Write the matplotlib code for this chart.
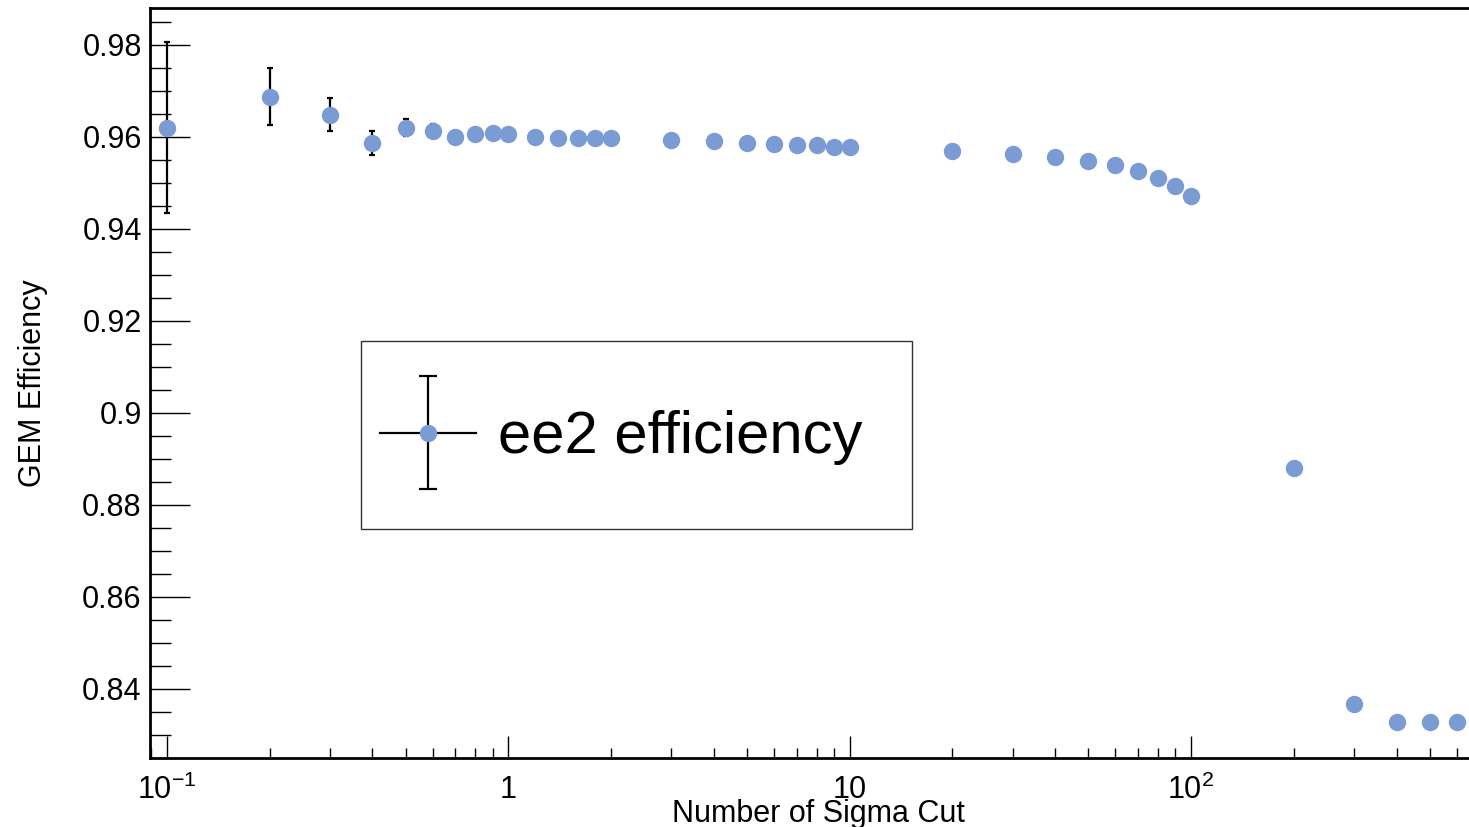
import numpy as np
import matplotlib
matplotlib.use("Agg")
import matplotlib.pyplot as plt
from matplotlib.ticker import LogLocator, NullFormatter, MultipleLocator, FuncFormatter
from matplotlib.lines import Line2D
from matplotlib.patches import Rectangle
from matplotlib.container import ErrorbarContainer
from matplotlib.legend_handler import HandlerErrorbar

sigma_cut = [0.1, 0.2, 0.3, 0.4, 0.5, 0.6, 0.7, 0.8, 0.9, 1.0,
             1.2, 1.4, 1.6, 1.8, 2.0, 3, 4, 5, 6, 7, 8, 9, 10,
             20, 30, 40, 50, 60, 70, 80, 90, 100, 200, 300, 400, 500, 600]
efficiency = [0.9620, 0.9687, 0.9648, 0.9587, 0.9620, 0.9613, 0.9600, 0.9607, 0.9609, 0.9607,
              0.9600, 0.9598, 0.9598, 0.9598, 0.9598, 0.9593, 0.9591, 0.9587, 0.9585, 0.9583,
              0.9583, 0.9578, 0.9578, 0.9570, 0.9563, 0.9557, 0.9548, 0.9539, 0.9526, 0.9511,
              0.9493, 0.9472, 0.8880, 0.8367, 0.8328, 0.8328, 0.8328]
eff_err = [0.0186, 0.0062, 0.0036, 0.0026, 0.0019, 0.0014, 0.0013, 0.0012, 0.0011, 0.0011,
           0.0010, 0.0010, 0.0009, 0.0009, 0.0009, 0.0008, 0.0008, 0.0008, 0.0007, 0.0007,
           0.0007, 0.0007, 0.0007, 0.0006, 0.0006, 0.0006, 0.0006, 0.0006, 0.0006, 0.0006,
           0.0006, 0.0006, 0.0008, 0.0009, 0.0009, 0.0009, 0.0009]

x_major = [0.1, 1, 10, 100]
x_major_labels = [r'$\mathregular{10^{-1}}$', '1', '10', r'$\mathregular{10^{2}}$']

plt.rcParams['font.family'] = ['Liberation Sans', 'DejaVu Sans']
plt.rcParams['mathtext.fontset'] = 'custom'
plt.rcParams['mathtext.rm'] = 'Liberation Sans'
plt.rcParams['mathtext.it'] = 'Liberation Sans:italic'

marker_col = '#7b9bd5'


# ROOT draws bigger caps in the legend than on the points
class BigCapHandler(HandlerErrorbar):
    def create_artists(self, *args, **kwargs):
        artists = super().create_artists(*args, **kwargs)
        for a in artists:
            if isinstance(a, Line2D) and a.get_marker() == '_':
                a.set_markersize(13)
                a.set_markeredgewidth(1.6)
        return artists


fig = plt.figure(figsize=(14.69, 8.27), dpi=100)
ax = fig.add_axes([150/1469, 1 - 758/827, 1319/1469, 750/827])

# no markeredgewidth kwarg here: it would override capthick and hide the caps
eb = ax.errorbar(sigma_cut, efficiency, yerr=eff_err, fmt='o', color=marker_col,
                 markersize=11.5, markeredgecolor=marker_col, ecolor='black',
                 elinewidth=1.6, capsize=2.5, capthick=1.6)

ax.set_xscale('log')
ax.set_xlim(0.0892, 652)
ax.set_ylim(0.825, 0.988)

ax.set_xticks(x_major, labels=x_major_labels)
ax.xaxis.set_minor_locator(LogLocator(base=10, subs=np.arange(2, 10)))
ax.xaxis.set_minor_formatter(NullFormatter())
ax.yaxis.set_major_locator(MultipleLocator(0.02))
ax.yaxis.set_minor_locator(MultipleLocator(0.005))
ax.yaxis.set_major_formatter(FuncFormatter(lambda v, p: '%g' % round(v, 4)))

ax.tick_params(axis='both', which='both', direction='in', top=False, right=False,
               width=1.0, labelsize=22)
ax.tick_params(axis='y', which='major', length=28.8, pad=6)
ax.tick_params(axis='y', which='minor', length=15)
ax.tick_params(axis='x', which='major', length=16, pad=12)
ax.tick_params(axis='x', which='minor', length=7.2)

for side in ['left', 'bottom', 'top']:
    ax.spines[side].set_linewidth(2)
ax.spines['right'].set_visible(False)

ax.set_xlabel('Number of Sigma Cut', fontsize=22)
ax.xaxis.set_label_coords(0.5064, -0.055)
ax.set_ylabel('GEM Efficiency', fontsize=22)
ax.yaxis.set_label_coords(-0.077, 0.5)

# legend: the errorbar entry plus a horizontal line like ROOT
hline = Line2D([], [], color='black', lw=1.6)
ax.legend([(hline, eb)], ['ee2 efficiency'], loc='center left',
          bbox_to_anchor=(0.1744, 0.4267), borderpad=0, borderaxespad=0,
          handlelength=1.61, handletextpad=0.37, frameon=False, fontsize=43,
          handler_map={ErrorbarContainer: BigCapHandler(xerr_size=0.5, yerr_size=0.94)})
ax.add_patch(Rectangle((0.160, 0.3053), 0.4177, 0.2507, transform=ax.transAxes,
                       fill=False, edgecolor='#333333', lw=1.0, zorder=5))

plt.savefig('out.png', dpi=100)
